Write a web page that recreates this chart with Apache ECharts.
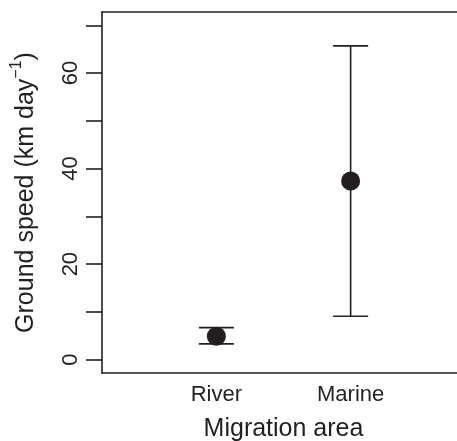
<!DOCTYPE html>
<html>
<head>
<meta charset="utf-8">
<script src="https://cdn.jsdelivr.net/npm/echarts@6/dist/echarts.min.js"></script>
<style>
  html, body { margin: 0; padding: 0; background: #fff; overflow: hidden; }
  #main { width: 457px; height: 441px; }
</style>
</head>
<body>
<div id="main"></div>
<script>
    var categories = ['River', 'Marine'];
    var means = [4.9, 37.4];
    var lower = [3.3, 9.1];
    var upper = [6.7, 65.7];
    var yTicks = [0, 10, 20, 30, 40, 50, 60, 70];
    var yLabels = [0, 20, 40, 60];

    var ink = '#231f20';
    var font = 'Liberation Sans, Arial, Helvetica, sans-serif';
    var frame = { show: true, onZero: false, lineStyle: { color: ink, width: 1.6 } };

    var pointData = [];
    var barData = [];
    for (var i = 0; i < categories.length; i++) {
        pointData.push([i + 1, means[i]]);
        barData.push([i + 1, lower[i], upper[i]]);
    };

    function renderBar(params, api) {
        var lo = api.coord([api.value(0), api.value(1)]);
        var hi = api.coord([api.value(0), api.value(2)]);
        var half = 17.5;
        var style = { stroke: ink, lineWidth: 1.6 };
        return {
            type: 'group',
            children: [
                { type: 'line', shape: { x1: lo[0], y1: lo[1], x2: hi[0], y2: hi[1] }, style: style },
                { type: 'line', shape: { x1: lo[0] - half, y1: lo[1], x2: lo[0] + half, y2: lo[1] }, style: style },
                { type: 'line', shape: { x1: hi[0] - half, y1: hi[1], x2: hi[0] + half, y2: hi[1] }, style: style }
            ]
        };
    };

    var myChart = echarts.init(document.getElementById('main'));
    var option = {
        animation: false,
        grid: {
            left: 102, top: 12, bottom: 68, right: -8,
            outerBoundsMode: 'none',
            containLabel: false,
            show: false
        },
        xAxis: [{
            type: 'value',
            min: 0.148, max: 2.852,
            axisLine: frame,
            axisTick: { show: false },
            splitLine: { show: false },
            axisLabel: {
                customValues: [1, 2],
                color: ink, fontFamily: font, fontSize: 22, margin: 11,
                formatter: function (v) { return categories[Math.round(v) - 1] || ''; }
            },
            name: 'Migration area',
            nameLocation: 'middle',
            nameGap: 44,
            nameTextStyle: { color: ink, fontFamily: font, fontSize: 25 }
        }, {
            type: 'value',
            position: 'top',
            min: 0.148, max: 2.852,
            axisLine: frame,
            axisTick: { show: false },
            axisLabel: { show: false },
            splitLine: { show: false }
        }],
        yAxis: {
            type: 'value',
            min: -2.8, max: 72.8,
            axisLine: frame,
            splitLine: { show: false },
            axisTick: {
                show: true, customValues: yTicks, length: 16,
                lineStyle: { color: ink, width: 1.6 }
            },
            axisLabel: {
                customValues: yLabels, rotate: 90,
                color: ink, fontFamily: font, fontSize: 22, margin: 20
            },
            name: '{a|Ground speed (km day}{s|−1}{a|)}',
            nameLocation: 'middle',
            nameRotate: 90,
            nameGap: 63,
            nameTextStyle: {
                rich: {
                    a: { color: ink, fontFamily: font, fontSize: 25, lineHeight: 30, verticalAlign: 'bottom' },
                    s: { color: ink, fontFamily: font, fontSize: 16, lineHeight: 18, verticalAlign: 'top' }
                }
            }
        },
        series: [
            {
                type: 'custom',
                renderItem: renderBar,
                data: barData,
                z: 2
            },
            {
                type: 'scatter',
                data: pointData,
                symbol: 'circle',
                symbolSize: 19,
                itemStyle: { color: ink, opacity: 1 },
                z: 3
            }
        ]
    };
    myChart.setOption(option);
</script>
</body>
</html>
